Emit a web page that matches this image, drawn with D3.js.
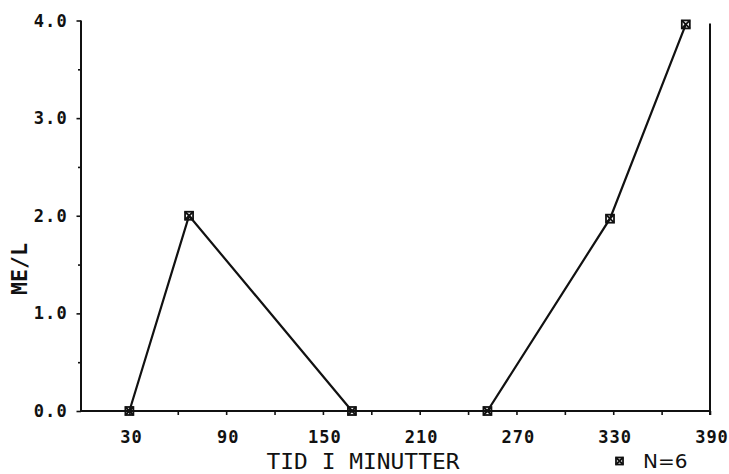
<!DOCTYPE html>
<html>
<head>
<meta charset="utf-8">
<script src="https://cdn.jsdelivr.net/npm/d3@7"></script>
<style>
  html, body { margin: 0; padding: 0; background: #fff; }
  svg { display: block; }
</style>
</head>
<body>
<svg id="chart" width="729" height="474"></svg>
<script>
// ---- data ----
const minutes = [30, 67, 168, 252, 328, 375];
const values  = [0.0, 2.0, 0.0, 0.0, 1.97, 3.96];
const segment = [0, 0, 0, 1, 1, 1];           // line pieces (gap between 168 and 252)
const xTickValues = [30, 60, 90, 120, 150, 180, 210, 240, 270, 300, 330, 360, 390];
const xTickLabels = [30, 90, 150, 210, 270, 330, 390];
const yTickValues = [0, 0.5, 1, 1.5, 2, 2.5, 3, 3.5, 4];
const yTickLabels = ["0.0", "1.0", "2.0", "3.0", "4.0"];
const xTitle = "TID I MINUTTER";
const yTitle = "ME/L";
const legendLabel = "N=6";

const svg = d3.select("#chart");
const x = d3.scaleLinear().domain([0, 390]).range([81, 710]);
const y = d3.scaleLinear().domain([0, 4]).range([411, 20.5]);

const ink = "#111";
const monoBold = "'DejaVu Sans Mono', monospace";

// left axis
const yAxis = d3.axisLeft(y).tickValues(yTickValues)
  .tickSize(4).tickFormat(() => "");
const gy = svg.append("g").attr("transform", `translate(${x(0)},0)`).call(yAxis);
gy.select(".domain").attr("stroke", ink).attr("stroke-width", 2).attr("d", `M0,${y(4)}V${y(0)}`);
gy.selectAll(".tick line").attr("stroke", ink).attr("stroke-width", 1.6)
  .attr("x2", d => (d % 1 === 0 ? -4.5 : -3));

// y labels
svg.append("g").selectAll("text").data(yTickLabels).join("text")
  .attr("x", 68).attr("y", d => y(+d) + 6)
  .attr("text-anchor", "end")
  .attr("font-family", monoBold).attr("font-weight", "bold")
  .attr("font-size", 17).attr("letter-spacing", 1.2)
  .attr("fill", ink).text(d => d);

// bottom axis
const xAxis = d3.axisBottom(x).tickValues(xTickValues).tickSize(4).tickFormat(() => "");
const gx = svg.append("g").attr("transform", `translate(0,${y(0)})`).call(xAxis);
gx.select(".domain").attr("stroke", ink).attr("stroke-width", 2).attr("d", `M${x(0)},0H${x(390)}`);
gx.selectAll(".tick line").attr("stroke", ink).attr("stroke-width", 1.6);

// x labels
svg.append("g").selectAll("text").data(xTickLabels).join("text")
  .attr("x", d => x(d) + 2).attr("y", 443)
  .attr("text-anchor", "middle")
  .attr("font-family", monoBold).attr("font-weight", "bold")
  .attr("font-size", 17).attr("letter-spacing", 1)
  .attr("fill", ink).text(d => d);

// right frame line
svg.append("line")
  .attr("x1", x(390)).attr("x2", x(390))
  .attr("y1", y(3.97)).attr("y2", y(0) + 4)
  .attr("stroke", ink).attr("stroke-width", 2);

// data lines
const pts = minutes.map((m, i) => ({ m, v: values[i], s: segment[i] }));
const groups = d3.groups(pts, d => d.s);
const line = d3.line().x(d => x(d.m)).y(d => y(d.v));
svg.append("g").selectAll("path").data(groups).join("path")
  .attr("d", d => line(d[1]))
  .attr("fill", "none").attr("stroke", ink).attr("stroke-width", 2.2);

// markers: square with X
function marker(g, cx, cy, s) {
  g.append("rect").attr("x", cx - s / 2).attr("y", cy - s / 2)
    .attr("width", s).attr("height", s)
    .attr("fill", "none").attr("stroke", ink).attr("stroke-width", 1.8);
  g.append("path")
    .attr("d", `M${cx - s / 2},${cy - s / 2}L${cx + s / 2},${cy + s / 2}M${cx + s / 2},${cy - s / 2}L${cx - s / 2},${cy + s / 2}`)
    .attr("stroke", ink).attr("stroke-width", 1.8);
}
const mg = svg.append("g");
pts.forEach(p => marker(mg, x(p.m), y(p.v), 8));

// axis titles
svg.append("text")
  .attr("x", 363).attr("y", 469)
  .attr("text-anchor", "middle")
  .attr("font-family", "'DejaVu Sans Mono', monospace")
  .attr("font-size", 21).attr("fill", ink)
  .attr("textLength", 193).attr("lengthAdjust", "spacingAndGlyphs")
  .text(xTitle);

svg.append("text")
  .attr("transform", "translate(27,269) rotate(-90)")
  .attr("text-anchor", "middle")
  .attr("font-family", monoBold).attr("font-weight", "bold")
  .attr("font-size", 21).attr("fill", ink)
  .attr("textLength", 52).attr("lengthAdjust", "spacingAndGlyphs")
  .text(yTitle);

// legend
const lg = svg.append("g");
marker(lg, 619.5, 461, 7);
lg.append("text")
  .attr("x", 643).attr("y", 468)
  .attr("font-family", "'DejaVu Sans', sans-serif")
  .attr("font-size", 20).attr("fill", ink)
  .text(legendLabel);
</script>
</body>
</html>
